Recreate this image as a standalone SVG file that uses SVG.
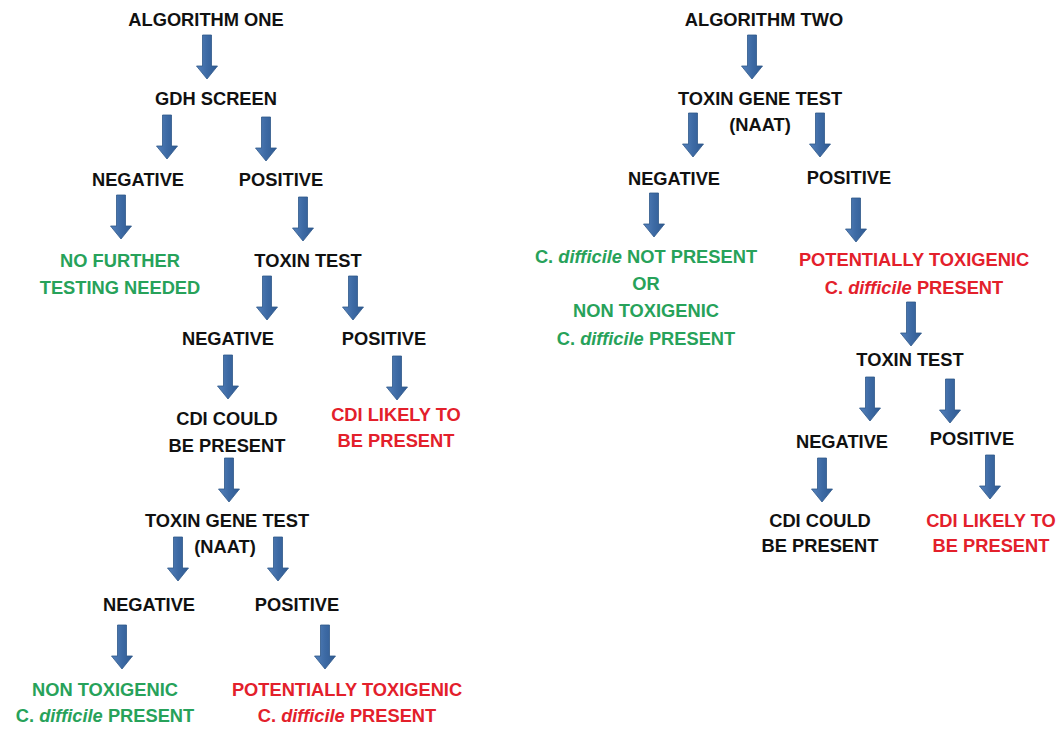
<svg xmlns="http://www.w3.org/2000/svg" xmlns:xlink="http://www.w3.org/1999/xlink" width="1063" height="729" viewBox="0 0 1063 729">
<style>
text{font-family:"Liberation Sans",Arial,sans-serif;font-weight:bold;font-size:18.3px;text-anchor:middle;fill:#111}
.g{fill:#27a25a}
.r{fill:#e3202b}
.i{font-style:italic}
.arrow{fill:#3d6aa4;stroke:#2f5889;stroke-width:0.8}
</style>
<defs>
<linearGradient id="sh" x1="0" x2="1" y1="0" y2="0">
<stop offset="0" stop-color="#5581bb"/>
<stop offset="0.5" stop-color="#3d6aa4"/>
<stop offset="1" stop-color="#2f5a92"/>
</linearGradient>
<path id="arr" class="arrow" style="fill:url(#sh)" d="M-4.5,0 H4.5 V31 H10.5 L0,44 L-10.5,31 H-4.5 Z"/>
</defs>
<rect width="1063" height="729" fill="#ffffff"/>
<g id="connectors">
<use xlink:href="#arr" x="207" y="35"/>
<use xlink:href="#arr" x="167" y="115"/>
<use xlink:href="#arr" x="266" y="117"/>
<use xlink:href="#arr" x="121" y="195"/>
<use xlink:href="#arr" x="303" y="197"/>
<use xlink:href="#arr" x="267" y="276"/>
<use xlink:href="#arr" x="353" y="276"/>
<use xlink:href="#arr" x="228" y="355"/>
<use xlink:href="#arr" x="397" y="356"/>
<use xlink:href="#arr" x="229" y="458"/>
<use xlink:href="#arr" x="178" y="537"/>
<use xlink:href="#arr" x="278" y="537"/>
<use xlink:href="#arr" x="122" y="625"/>
<use xlink:href="#arr" x="325" y="625"/>
<use xlink:href="#arr" x="752" y="35"/>
<use xlink:href="#arr" x="693" y="113"/>
<use xlink:href="#arr" x="820" y="113"/>
<use xlink:href="#arr" x="654" y="193"/>
<use xlink:href="#arr" x="856" y="198"/>
<use xlink:href="#arr" x="911" y="302"/>
<use xlink:href="#arr" x="870" y="377"/>
<use xlink:href="#arr" x="950" y="379"/>
<use xlink:href="#arr" x="822" y="458"/>
<use xlink:href="#arr" x="990" y="455"/>
</g>
<g id="alg1-title"><text x="206" y="26">ALGORITHM ONE</text></g>
<g id="alg1-gdh"><text x="216" y="105">GDH SCREEN</text></g>
<g id="alg1-neg1"><text x="138" y="186">NEGATIVE</text></g>
<g id="alg1-pos1"><text x="281" y="186">POSITIVE</text></g>
<g id="alg1-nofurther"><text class="g" x="120" y="267">NO FURTHER</text><text class="g" x="120" y="294">TESTING NEEDED</text></g>
<g id="alg1-toxin"><text x="308" y="267">TOXIN TEST</text></g>
<g id="alg1-neg2"><text x="228" y="345">NEGATIVE</text></g>
<g id="alg1-pos2"><text x="384" y="345">POSITIVE</text></g>
<g id="alg1-could"><text x="227" y="425">CDI COULD</text><text x="227" y="452">BE PRESENT</text></g>
<g id="alg1-likely"><text class="r" x="396" y="421">CDI LIKELY TO</text><text class="r" x="396" y="447">BE PRESENT</text></g>
<g id="alg1-gene"><text x="227" y="527">TOXIN GENE TEST</text><text x="225" y="553">(NAAT)</text></g>
<g id="alg1-neg3"><text x="149" y="611">NEGATIVE</text></g>
<g id="alg1-pos3"><text x="297" y="611">POSITIVE</text></g>
<g id="alg1-nontox"><text class="g" x="105" y="696">NON TOXIGENIC</text><text class="g" x="105" y="722">C. <tspan class="i">difficile</tspan> PRESENT</text></g>
<g id="alg1-pottox"><text class="r" x="347" y="696">POTENTIALLY TOXIGENIC</text><text class="r" x="347" y="722">C. <tspan class="i">difficile</tspan> PRESENT</text></g>
<g id="alg2-title"><text x="764" y="26">ALGORITHM TWO</text></g>
<g id="alg2-gene"><text x="760" y="105">TOXIN GENE TEST</text><text x="760" y="131">(NAAT)</text></g>
<g id="alg2-neg1"><text x="674" y="185">NEGATIVE</text></g>
<g id="alg2-pos1"><text x="849" y="184">POSITIVE</text></g>
<g id="alg2-notpresent"><text class="g" x="646" y="263">C. <tspan class="i">difficile</tspan> NOT PRESENT</text><text class="g" x="646" y="290">OR</text><text class="g" x="646" y="317">NON TOXIGENIC</text><text class="g" x="646" y="345">C. <tspan class="i">difficile</tspan> PRESENT</text></g>
<g id="alg2-pottox"><text class="r" x="914" y="266">POTENTIALLY TOXIGENIC</text><text class="r" x="914" y="294">C. <tspan class="i">difficile</tspan> PRESENT</text></g>
<g id="alg2-toxin"><text x="910" y="366">TOXIN TEST</text></g>
<g id="alg2-neg2"><text x="842" y="448">NEGATIVE</text></g>
<g id="alg2-pos2"><text x="972" y="445">POSITIVE</text></g>
<g id="alg2-could"><text x="820" y="527">CDI COULD</text><text x="820" y="552">BE PRESENT</text></g>
<g id="alg2-likely"><text class="r" x="991" y="527">CDI LIKELY TO</text><text class="r" x="991" y="552">BE PRESENT</text></g>
</svg>
